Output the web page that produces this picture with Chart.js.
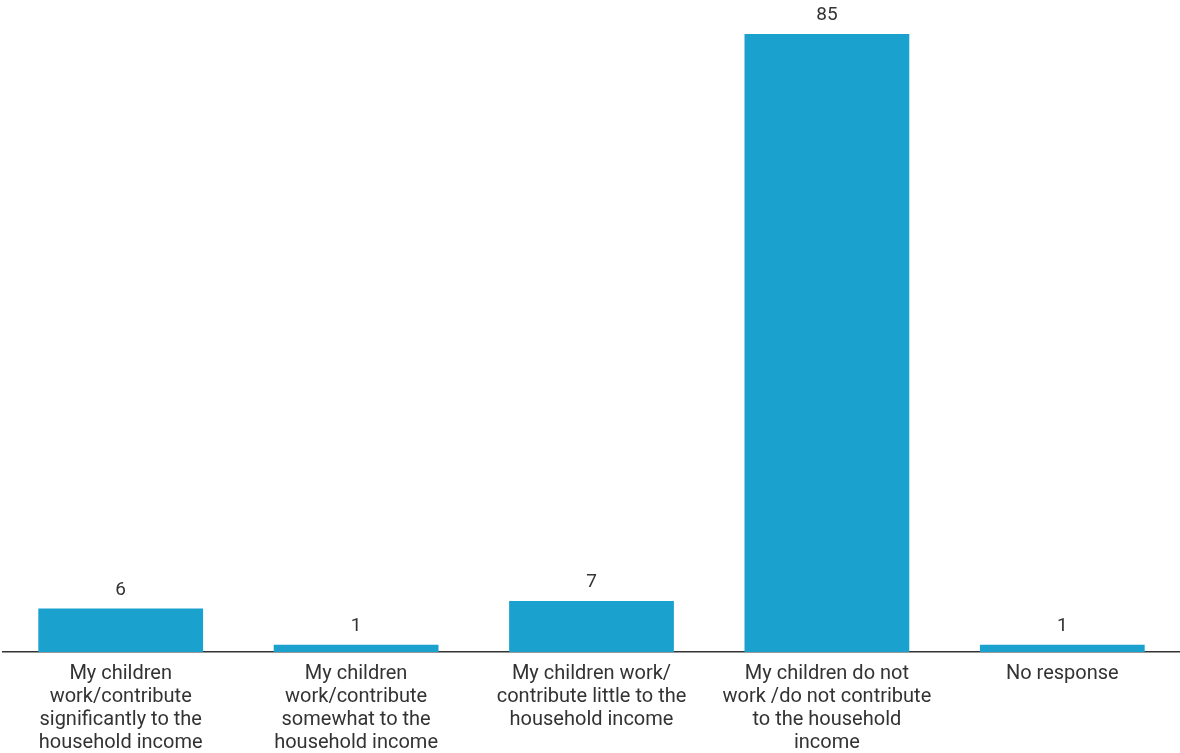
<!DOCTYPE html>
<html>
<head>
<meta charset="utf-8">
<script src="https://cdn.jsdelivr.net/npm/chart.js@4"></script>
<style>
  html, body { margin: 0; padding: 0; background: #fff; overflow: hidden; }
  #wrap { width: 1180px; height: 756px; position: relative; }
</style>
</head>
<body>
<div id="wrap"><canvas id="chart"></canvas></div>
<script>
const categories = [
    ["My children", "work/contribute", "significantly to the", "household income"],
    ["My children", "work/contribute", "somewhat to the", "household income"],
    ["My children work/", "contribute little to the", "household income"],
    ["My children do not", "work /do not contribute", "to the household", "income"],
    ["No response"]
];
const values = [6, 1, 7, 85, 1];

// value above each bar
const valueLabels = {
    id: "valueLabels",
    afterDatasetsDraw(chart) {
        const ctx = chart.ctx;
        ctx.save();
        ctx.font = "19px Roboto";
        ctx.fillStyle = "#333";
        ctx.textAlign = "center";
        ctx.textBaseline = "bottom";
        chart.getDatasetMeta(0).data.forEach((bar, i) => {
            ctx.fillText(values[i], bar.x, bar.y - 9);
        });
        ctx.restore();
    }
};

new Chart(document.getElementById("chart"), {
    type: "bar",
    data: {
        labels: categories,
        datasets: [{
            data: values,
            backgroundColor: "#1aa1cd",
            categoryPercentage: 0.7,
            barPercentage: 1.0
        }]
    },
    options: {
        responsive: true,
        maintainAspectRatio: false,
        animation: false,
        layout: { padding: { top: 34, left: 3, right: 0, bottom: 0 } },
        plugins: { legend: { display: false }, tooltip: { enabled: false } },
        scales: {
            x: {
                grid: { display: false },
                border: { display: true, color: "#333", width: 1.5 },
                ticks: {
                    color: "#333",
                    font: { family: "Roboto", size: 20, lineHeight: 1.15 },
                    maxRotation: 0,
                    autoSkip: false,
                    padding: 2
                }
            },
            y: {
                display: false,
                min: 0,
                max: 85
            }
        }
    },
    plugins: [valueLabels]
});
</script>
</body>
</html>
